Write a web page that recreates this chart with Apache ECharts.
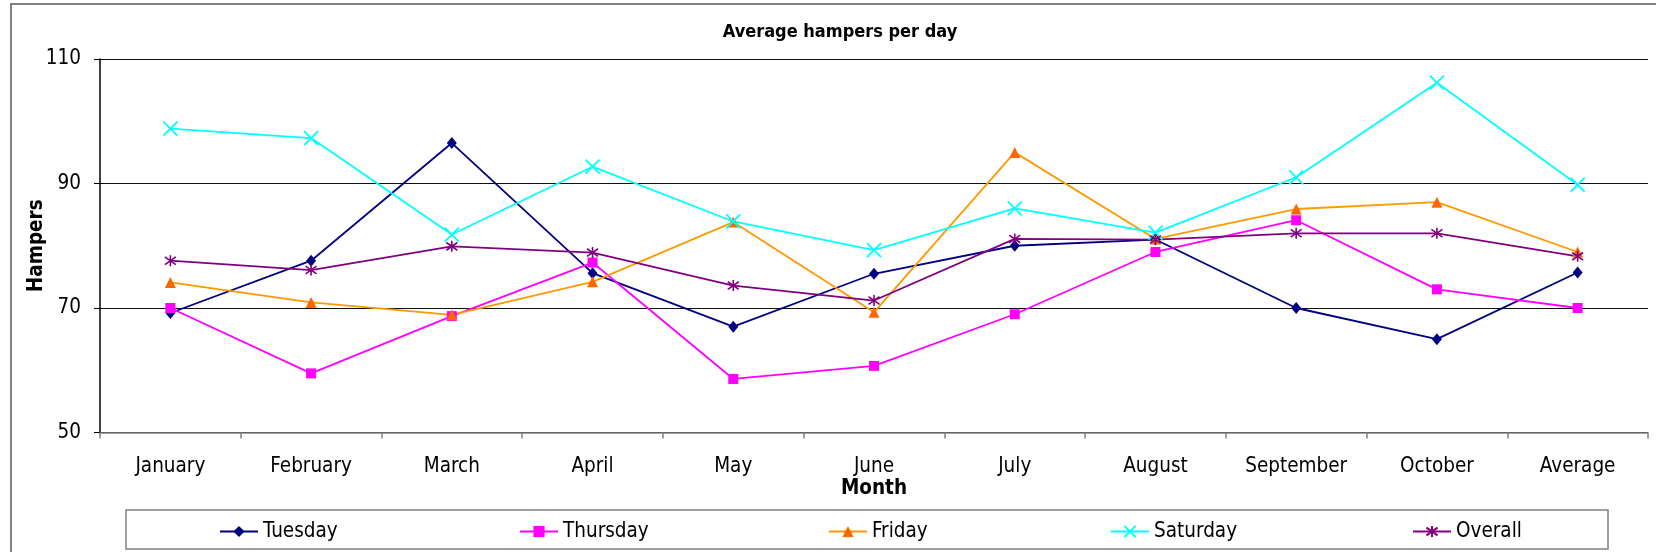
<!DOCTYPE html>
<html>
<head>
<meta charset="utf-8">
<script src="https://cdn.jsdelivr.net/npm/echarts@6/dist/echarts.min.js"></script>
<style>
html,body{margin:0;padding:0;background:#fff;}
#chart{width:1656px;height:552px;}
</style>
</head>
<body>
<div id="chart"></div>
<script>
const categories = ['January','February','March','April','May','June','July','August','September','October','Average'];
const tuesday  = [69.2, 77.6, 96.5, 75.6, 67.0, 75.5, 80.0, 81.0, 70.0, 65.0, 75.7];
const thursday = [70.0, 59.5, 68.7, 77.3, 58.6, 60.7, 69.0, 79.0, 84.1, 73.0, 70.0];
const friday   = [74.1, 70.9, 68.9, 74.2, 83.8, 69.3, 95.0, 81.1, 85.9, 87.0, 79.0];
const saturday = [98.8, 97.3, 81.8, 92.7, 83.9, 79.3, 86.0, 82.1, 91.0, 106.2, 89.8];
const overall  = [77.6, 76.1, 79.9, 78.9, 73.6, 71.2, 81.1, 81.0, 82.0, 82.0, 78.3];
const yTicks = {min: 50, max: 110, interval: 20};

const FONT = "'DejaVu Sans Condensed','DejaVu Sans',sans-serif";
const FS = 20.5;
const xPath = 'path://M0,0L10,10M10,0L0,10';
const starPath = 'path://M0,1.5L10,8.5M10,1.5L0,8.5M5,0L5,10';

function mk(name, data, lineColor, markColor, symbol, size, border) {
  const s = {
    name, type: 'line', data,
    symbol, symbolSize: size,
    lineStyle: {color: lineColor, width: 1.8},
    itemStyle: {color: markColor},
    emphasis: {disabled: true},
    animation: false
  };
  if (border) s.itemStyle = {color: markColor, borderColor: markColor, borderWidth: border};
  return s;
}

const chart = echarts.init(document.getElementById('chart'));
const legendPos = [219, 519, 828, 1110, 1412];
const names = ['Tuesday','Thursday','Friday','Saturday','Overall'];
chart.setOption({
  animation: false,
  title: {
    text: 'Average hampers per day', left: 835, textAlign: 'center', top: 18,
    textStyle: {fontFamily: FONT, fontSize: 18, fontWeight: 'bold', color: '#000'}
  },
  grid: {left: 100, right: 8, top: 59, bottom: 119.5},
  legend: names.map((n, i) => ({
    data: [n], left: legendPos[i], top: 521,
    itemWidth: 38, itemHeight: 14, itemGap: 0,
    textStyle: {fontFamily: FONT, fontSize: FS, color: '#000'},
    padding: 0
  })),
  xAxis: {
    type: 'category', data: categories, boundaryGap: true,
    name: 'Month', nameLocation: 'middle', nameGap: 46, nameMoveOverlap: false,
    nameTextStyle: {fontFamily: FONT, fontSize: FS, fontWeight: 'bold', color: '#000'},
    axisLine: {lineStyle: {color: '#808080', width: 1.5}},
    axisTick: {show: true, length: 6, lineStyle: {color: '#808080', width: 1.5}},
    axisLabel: {fontFamily: FONT, fontSize: FS, color: '#000', margin: 24}
  },
  yAxis: {
    type: 'value', min: yTicks.min, max: yTicks.max, interval: yTicks.interval,
    name: 'Hampers', nameLocation: 'middle', nameGap: 53, nameRotate: 90, nameMoveOverlap: false,
    nameTextStyle: {fontFamily: FONT, fontSize: FS, fontWeight: 'bold', color: '#000'},
    axisLine: {show: true, lineStyle: {color: '#000', width: 1.5}},
    axisTick: {show: true, length: 6, lineStyle: {color: '#000'}},
    axisLabel: {fontFamily: FONT, fontSize: FS, color: '#000', margin: 19},
    splitLine: {lineStyle: {color: '#111', width: 1.2}}
  },
  graphic: [
    {type: 'rect', shape: {x: 11, y: 4, width: 1700, height: 600}, style: {fill: 'none', stroke: '#808080', lineWidth: 2}, silent: true},
    {type: 'rect', shape: {x: 126, y: 510, width: 1482, height: 39}, style: {fill: 'none', stroke: '#808080', lineWidth: 1.5}, silent: true}
  ],
  series: [
    mk('Tuesday', tuesday, '#000080', '#000080', 'diamond', [10, 12]),
    mk('Thursday', thursday, '#FF00FF', '#FF00FF', 'rect', 10),
    mk('Friday', friday, '#FF9900', '#FF6600', 'triangle', 11),
    mk('Saturday', saturday, '#00FFFF', '#00FFFF', xPath, 14, 1.8),
    mk('Overall', overall, '#800080', '#800080', starPath, 11, 1.6)
  ]
});
</script>
</body>
</html>
